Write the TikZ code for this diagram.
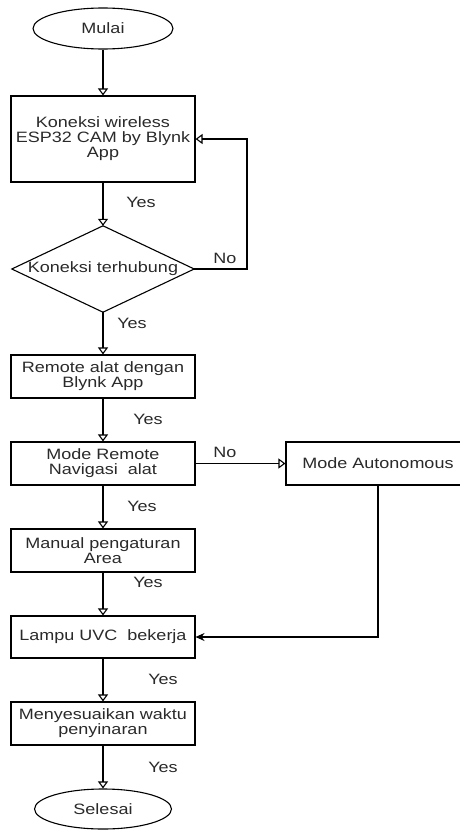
\documentclass[tikz,border=0pt]{standalone}
\usepackage{fontspec}
\setmainfont[FakeStretch=1.2]{Liberation Sans}
\usetikzlibrary{arrows.meta,shapes.geometric}
\definecolor{txt}{HTML}{2A2A2A}
\tikzset{
  every node/.style={font=\fontsize{15}{15}\selectfont, text=txt},
  procbox/.style={draw=black, line width=1.1pt, rectangle, minimum width=184pt, minimum height=43pt, align=center, inner sep=1pt},
  termbox/.style={draw=black, line width=1.1pt, ellipse, minimum width=140pt, minimum height=41pt, inner sep=0pt},
  arr/.style={draw=black, line width=1.1pt, -{Triangle[open,length=7pt,width=10pt]}},
  arrfill/.style={draw=black, line width=1.1pt, -{Stealth[length=9pt,width=8pt]}},
  lbl/.style={inner sep=0pt}
}
\begin{document}
\begin{tikzpicture}[x=1pt,y=-1pt]
\useasboundingbox (0,0) rectangle (459,830);
\fill[white] (0,0) rectangle (459,830);

\node[termbox] (start) at (103,28.5) {Mulai};
\node[procbox, minimum height=86pt] (b1) at (103,139) {Koneksi wireless\\ESP32 CAM by Blynk\\App};
\node[rectangle, minimum width=182pt, minimum height=86pt, inner sep=0pt] (dec) at (103,269) {Koneksi terhubung};
\draw[line width=1.1pt] (dec.north) -- (dec.east) -- (dec.south) -- (dec.west) -- cycle;
\node[procbox] (b2) at (103,376.5) {Remote alat dengan\\Blynk App};
\node[procbox] (b3) at (103,463.5) {Mode Remote\\Navigasi\ \ alat};
\node[procbox] (auto) at (378,463.5) {Mode Autonomous};
\node[procbox] (b4) at (103,550.5) {Manual pengaturan\\Area};
\node[procbox, minimum height=42pt] (b5) at (103,637) {Lampu UVC\ \ bekerja};
\node[procbox] (b6) at (103,723.5) {Menyesuaikan waktu\\penyinaran};
\node[termbox, minimum width=137pt, minimum height=40pt] (end) at (103,809) {Selesai};

\coordinate (loop) at (247,139);
\coordinate (turn) at (378,637);

\draw[arr] (start) -- (b1);
\draw[arr] (b1) -- (dec.north);
\draw[arr] (dec.east) -| (loop) -- (b1.east);
\draw[arr] (dec.south) -- (b2);
\draw[arr] (b2) -- (b3);
\draw[arr] (b3) -- (auto);
\draw[arr] (b3) -- (b4);
\draw[arr] (b4) -- (b5);
\draw[arrfill] (auto.south) -- (turn) -- (b5.east);
\draw[arr] (b5) -- (b6);
\draw[arr] (b6) -- (end);

\node[lbl] (y1) at (141,202) {Yes};
\node[lbl] (n1) at (225,258) {No};
\node[lbl] (y2) at (132,323) {Yes};
\node[lbl] (y3) at (148,419) {Yes};
\node[lbl] (n2) at (225,452) {No};
\node[lbl] (y4) at (142,506) {Yes};
\node[lbl] (y5) at (148,582) {Yes};
\node[lbl] (y6) at (163,679) {Yes};
\node[lbl] (y7) at (163,767) {Yes};
\end{tikzpicture}
\end{document}
